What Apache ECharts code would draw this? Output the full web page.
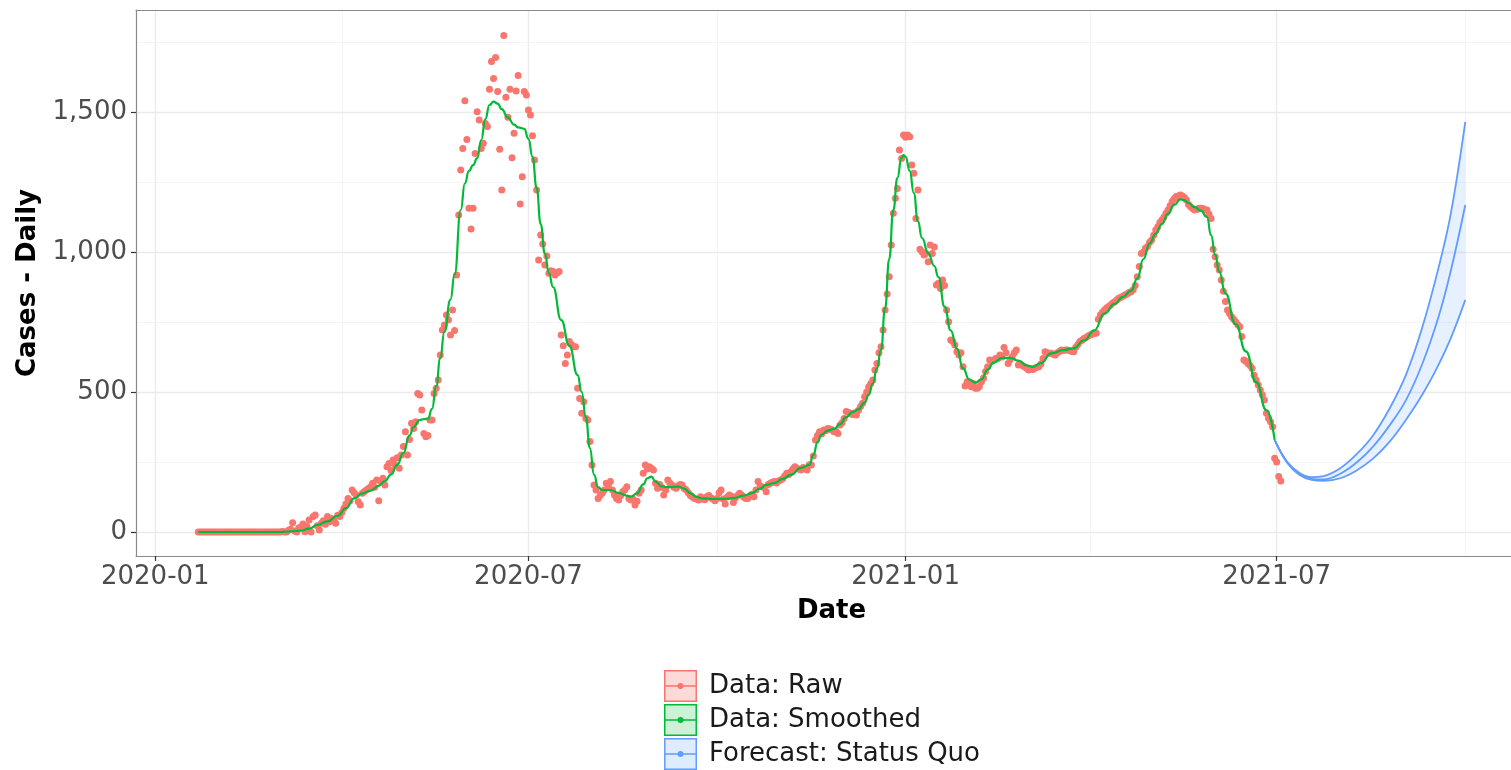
<!DOCTYPE html>
<html>
<head>
<meta charset="utf-8">
<script src="https://cdn.jsdelivr.net/npm/echarts@6/dist/echarts.min.js"></script>
<style>
html,body{margin:0;padding:0;background:#fff;}
#chart{width:1511px;height:770px;}
</style>
</head>
<body>
<div id="chart"></div>
<script>
// ---------- DATA ----------
const rawStart = '2020-01-22';
const rawValues = [
0,0,0,0,0,0,0,0,0,0,
0,0,0,0,0,0,0,0,0,0,
0,0,0,0,0,0,0,0,0,0,
0,0,0,0,0,0,0,0,0,0,
0,2,0,0,6,10,33,4,0,14,
18,29,1,20,43,0,55,61,22,7,
31,40,28,55,37,48,42,31,60,55,
70,85,100,120,112,150,140,132,108,96,
138,145,150,155,162,174,160,186,112,180,
192,168,233,245,220,257,240,265,228,275,
305,358,275,330,388,370,394,495,489,436,
352,340,345,400,400,495,513,543,632,721,
739,775,757,704,793,720,918,1132,1293,1370,
1540,1402,1156,1082,1156,1352,1501,1471,1370,1388,
1459,1448,1581,1680,1620,1695,1573,1367,1221,1773,
1553,1481,1581,1337,1424,1575,1630,1171,1269,1573,
1561,1507,1489,1415,1329,1221,971,1061,1029,954,
986,924,933,930,918,925,930,704,665,602,
632,680,670,662,662,513,477,424,465,406,
400,323,239,168,150,120,130,138,150,174,
165,180,150,132,120,114,130,144,150,162,
120,114,118,96,110,138,150,210,239,225,
233,228,221,174,156,170,160,132,150,186,
175,168,160,156,165,170,168,155,150,140,
130,125,120,118,114,126,120,115,126,130,
122,118,112,120,140,150,118,100,125,132,
128,105,122,130,138,132,125,120,120,128,
135,126,150,180,165,162,158,144,170,174,
178,180,175,182,186,190,200,210,205,215,
225,233,228,224,221,230,226,221,240,239,
271,329,345,358,350,364,362,370,368,365,
358,360,352,382,390,405,430,428,424,420,
425,418,435,448,460,483,500,519,530,543,
579,602,640,662,721,793,850,912,1025,1138,
1192,1227,1364,1334,1418,1410,1418,1412,1311,1281,
1120,1221,1010,1001,989,995,965,1025,995,1018,
882,888,870,900,880,793,751,686,680,668,
644,632,640,590,521,537,530,519,530,513,
513,520,537,550,573,590,614,610,614,620,
620,632,625,659,640,602,615,626,640,650,
596,600,595,590,585,579,582,580,585,588,
590,600,620,644,640,638,638,635,632,640,
645,650,648,650,650,648,645,644,660,670,
680,685,691,695,700,704,706,710,710,760,
775,785,793,800,805,811,818,822,829,835,
838,842,846,850,855,858,865,880,912,948,
995,1000,1013,1020,1035,1043,1060,1079,1090,1105,
1114,1125,1138,1150,1165,1180,1190,1198,1200,1204,
1200,1195,1186,1170,1162,1155,1150,1152,1156,1156,
1155,1152,1150,1135,1120,1010,983,954,936,900,
860,823,793,780,769,760,751,740,733,698,
614,610,602,595,585,560,543,525,507,490,
471,424,406,394,376,263,250,198,182
];

const smoothDates = [
'2020-01-22','2020-02-10','2020-03-01','2020-03-07','2020-03-12','2020-03-16','2020-03-20','2020-03-25','2020-03-30',
'2020-04-03','2020-04-07','2020-04-11','2020-04-15','2020-04-19','2020-04-22','2020-04-25','2020-04-28',
'2020-05-01','2020-05-04','2020-05-06','2020-05-09','2020-05-11','2020-05-13','2020-05-15','2020-05-17','2020-05-19',
'2020-05-21','2020-05-24','2020-05-26','2020-05-29','2020-05-31','2020-06-02','2020-06-04','2020-06-06','2020-06-08',
'2020-06-10','2020-06-12','2020-06-14','2020-06-16','2020-06-18','2020-06-21','2020-06-24','2020-06-26','2020-06-29',
'2020-07-01','2020-07-03','2020-07-05','2020-07-07','2020-07-09','2020-07-11','2020-07-13','2020-07-17','2020-07-21',
'2020-07-25','2020-07-27','2020-07-29','2020-07-31','2020-08-02','2020-08-04','2020-08-06','2020-08-10','2020-08-14',
'2020-08-18','2020-08-20','2020-08-23','2020-08-26','2020-08-28','2020-08-30','2020-09-01','2020-09-04','2020-09-07',
'2020-09-12','2020-09-15','2020-09-18','2020-09-21','2020-09-24','2020-09-29','2020-10-04','2020-10-09','2020-10-14',
'2020-10-18','2020-10-22','2020-10-25','2020-10-29','2020-11-02','2020-11-06','2020-11-11','2020-11-15','2020-11-17',
'2020-11-19','2020-11-21','2020-11-24','2020-11-27','2020-11-30','2020-12-03','2020-12-06','2020-12-09','2020-12-12',
'2020-12-14','2020-12-16','2020-12-18','2020-12-20','2020-12-22','2020-12-24','2020-12-26','2020-12-28','2020-12-30',
'2020-12-31','2021-01-01','2021-01-03','2021-01-05','2021-01-07','2021-01-09','2021-01-12','2021-01-15','2021-01-17',
'2021-01-20','2021-01-23','2021-01-26','2021-01-29','2021-02-01','2021-02-04','2021-02-07','2021-02-10','2021-02-13',
'2021-02-17','2021-02-21','2021-02-25','2021-03-01','2021-03-04','2021-03-08','2021-03-13','2021-03-19','2021-03-24',
'2021-03-29','2021-04-03','2021-04-08','2021-04-13','2021-04-17','2021-04-21','2021-04-24','2021-04-27','2021-04-30',
'2021-05-03','2021-05-06','2021-05-09','2021-05-12','2021-05-15','2021-05-17','2021-05-19','2021-05-22','2021-05-25',
'2021-05-28','2021-05-30','2021-06-01','2021-06-03','2021-06-06','2021-06-11','2021-06-16','2021-06-21','2021-06-26',
'2021-06-30'
];
const smoothValues = [
0,0,0,2,5,12,25,38,58,
85,120,138,148,165,182,205,240,
282,345,375,400,403,405,440,520,620,
715,830,920,1150,1245,1290,1310,1335,1400,
1475,1525,1537,1530,1510,1480,1455,1445,1440,
1405,1340,1230,1100,995,925,875,757,665,
560,500,410,300,205,160,150,150,140,
130,126,138,170,192,198,180,163,160,
162,155,139,125,120,118,118,121,130,
139,155,168,175,190,204,229,240,275,
320,348,362,368,385,410,428,438,462,
490,530,585,650,800,975,1150,1265,1336,
1346,1340,1290,1210,1110,1050,996,950,910,
805,720,655,585,545,533,545,580,605,
622,622,612,595,590,603,638,650,656,
684,720,780,815,840,862,905,975,1030,
1065,1100,1136,1168,1188,1185,1175,1160,1148,
1125,1060,990,930,852,742,645,535,435,
329
];

const forecastDates = ['2021-06-30','2021-07-06','2021-07-12','2021-07-18','2021-07-24','2021-08-01','2021-08-09',
  '2021-08-17','2021-08-25','2021-09-02','2021-09-10','2021-09-18','2021-09-24','2021-10-01'];
const forecastMid  = [329,250,208,190,188,208,248,305,380,470,600,770,935,1168];
const forecastLow  = [329,248,204,186,183,192,220,262,322,400,490,598,693,829];
const forecastHigh = [329,252,212,196,200,228,278,345,440,560,730,945,1140,1465];

const xMajorTicks = ['2020-01-01','2020-07-01','2021-01-01','2021-07-01'];
const xMinorTicks = ['2020-04-01','2020-10-01','2021-04-01','2021-10-01'];
const yMajorTicks = [0,500,1000,1500];
const yMinorTicks = [250,750,1250,1750];

const seriesNames = ['Data: Raw','Data: Smoothed','Forecast: Status Quo'];

// ---------- HELPERS ----------
const DAY = 86400000;
function utc(s){ const p = s.split('-').map(Number); return Date.UTC(p[0], p[1]-1, p[2]); }
const origin = utc('2020-01-01');
const xMin = origin - 9.41 * DAY;
const xMax = origin + 661.3 * DAY;
const rawData = rawValues.map((v,i)=>[utc(rawStart) + i*DAY, v]);
const smoothData = smoothDates.map((d,i)=>[utc(d), smoothValues[i]]);
const fMid = forecastDates.map((d,i)=>[utc(d), forecastMid[i]]);
const fLow = forecastDates.map((d,i)=>[utc(d), forecastLow[i]]);
const fHigh = forecastDates.map((d,i)=>[utc(d), forecastHigh[i]]);
const fBand = forecastDates.map((d,i)=>[utc(d), forecastHigh[i]-forecastLow[i]]);

const RED='#F8766D', GREEN='#00BA38', BLUE='#619CFF';
const FONT='DejaVu Sans';

const gridLines = [];
xMajorTicks.forEach(d=>gridLines.push({xAxis: utc(d), lineStyle:{type:'solid', color:'#EBEBEB', width:1.4}}));
xMinorTicks.forEach(d=>gridLines.push({xAxis: utc(d), lineStyle:{type:'solid', color:'#F2F2F2', width:0.8}}));
yMajorTicks.forEach(v=>gridLines.push({yAxis: v, lineStyle:{type:'solid', color:'#EBEBEB', width:1.4}}));
yMinorTicks.forEach(v=>gridLines.push({yAxis: v, lineStyle:{type:'solid', color:'#F2F2F2', width:0.8}}));

function fmtDate(v){
  const d = new Date(v);
  const m = d.getUTCMonth()+1;
  return d.getUTCFullYear() + '-' + (m<10?'0':'') + m;
}

const framePath = 'path://M0,0 H33 V32 H0 Z M1.5,1.5 V30.5 H31.5 V1.5 Z M1.5,15.2 H31.5 V16.8 H1.5 Z M13.5,16 A3,3 0 1,1 19.5,16 A3,3 0 1,1 13.5,16 Z';

const legendBase = {
  orient:'vertical', left:664, top:670, height:110, padding:0, itemGap:2,
  itemWidth:33, itemHeight:32, selectedMode:false
};

const chart = echarts.init(document.getElementById('chart'), null, {renderer:'canvas'});
chart.setOption({
  animation:false,
  backgroundColor:'#ffffff',
  textStyle:{fontFamily:FONT},
  grid:{left:136, right:0, top:10, bottom:214, containLabel:false},
  xAxis:[{
    type:'value', min:xMin, max:xMax, scale:true,
    name:'Date', nameLocation:'middle', nameGap:42,
    nameTextStyle:{fontFamily:FONT, fontSize:26, fontWeight:'bold', color:'#000', padding:[0,0,0,16]},
    axisLine:{show:true, onZero:false, lineStyle:{color:'#8a8a8a', width:1.2}},
    axisTick:{show:true, length:5, lineStyle:{color:'#333', width:1.2}, customValues:xMajorTicks.map(utc)},
    axisLabel:{fontFamily:FONT, fontSize:26, color:'#4D4D4D', margin:8, customValues:xMajorTicks.map(utc), formatter:fmtDate},
    splitLine:{show:false}
  },{
    type:'value', position:'top', min:xMin, max:xMax, scale:true,
    axisLine:{show:true, onZero:false, lineStyle:{color:'#8a8a8a', width:1.2}},
    axisTick:{show:false}, axisLabel:{show:false}, splitLine:{show:false}
  },{
    type:'time', show:false, min:xMin, max:xMax
  }],
  yAxis:{
    type:'value', min:-85.7, max:1864.3,
    name:'Cases - Daily', nameLocation:'middle', nameGap:94,
    nameTextStyle:{fontFamily:FONT, fontSize:26, fontWeight:'bold', color:'#000'},
    axisLine:{show:true, onZero:false, lineStyle:{color:'#8a8a8a', width:1.2}},
    axisTick:{show:true, length:5, lineStyle:{color:'#333', width:1.2}, customValues:yMajorTicks},
    axisLabel:{fontFamily:FONT, fontSize:26, color:'#4D4D4D', margin:9, customValues:yMajorTicks,
      formatter:v=>v.toLocaleString('en-US')},
    splitLine:{show:false}
  },
  legend:[Object.assign({}, legendBase, {
    icon:'rect',
    textStyle:{fontFamily:FONT, fontSize:26, color:'#1a1a1a', lineHeight:30, padding:[0,0,0,7]},
    itemStyle:{borderWidth:0},
    data:[
      {name:seriesNames[0], itemStyle:{color:'#FCDAD7', borderWidth:0}},
      {name:seriesNames[1], itemStyle:{color:'#CCF1D7', borderWidth:0}},
      {name:seriesNames[2], itemStyle:{color:'#DFEBFF', borderWidth:0}}
    ]
  }), Object.assign({}, legendBase, {
    icon:framePath,
    formatter:()=> '',
    textStyle:{fontFamily:FONT, fontSize:26, lineHeight:30},
    itemStyle:{borderWidth:0},
    data:[
      {name:seriesNames[0], itemStyle:{color:RED, borderWidth:0}},
      {name:seriesNames[1], itemStyle:{color:GREEN, borderWidth:0}},
      {name:seriesNames[2], itemStyle:{color:BLUE, borderWidth:0}}
    ]
  })],
  series:[
    {name:'grid', type:'line', data:[], silent:true, z:0, symbol:'none',
     markLine:{z:0, zlevel:0, silent:true, symbol:['none','none'], label:{show:false}, animation:false,
       lineStyle:{type:'solid'}, data:gridLines}},
    {name:seriesNames[0], type:'scatter', data:rawData, symbol:'circle', symbolSize:7, z:3, silent:true,
     itemStyle:{color:RED, opacity:1, borderWidth:0}, emphasis:{disabled:true}},
    {name:seriesNames[1], type:'line', data:smoothData, symbol:'none', showSymbol:false, smooth:0.5, smoothMonotone:'x', z:4,
     silent:true, lineStyle:{color:GREEN, width:2.2}, itemStyle:{color:GREEN}},
    {name:'fc-base', type:'line', xAxisIndex:2, data:fLow, stack:'band', symbol:'none', showSymbol:false, smooth:0.4, z:2,
     lineStyle:{opacity:0}, silent:true},
    {name:'fc-band', type:'line', xAxisIndex:2, data:fBand, stack:'band', symbol:'none', showSymbol:false, smooth:0.4, z:2,
     lineStyle:{opacity:0}, areaStyle:{color:'rgba(97,156,255,0.21)'}, silent:true},
    {name:'fc-low', type:'line', data:fLow, symbol:'none', showSymbol:false, smooth:0.4, z:5, silent:true,
     lineStyle:{color:BLUE, width:1.8}},
    {name:'fc-high', type:'line', data:fHigh, symbol:'none', showSymbol:false, smooth:0.4, z:5, silent:true,
     lineStyle:{color:BLUE, width:1.8}},
    {name:seriesNames[2], type:'line', data:fMid, symbol:'none', showSymbol:false, smooth:0.4, z:5, silent:true,
     lineStyle:{color:BLUE, width:1.8}, itemStyle:{color:BLUE}}
  ]
});
</script>
</body>
</html>
